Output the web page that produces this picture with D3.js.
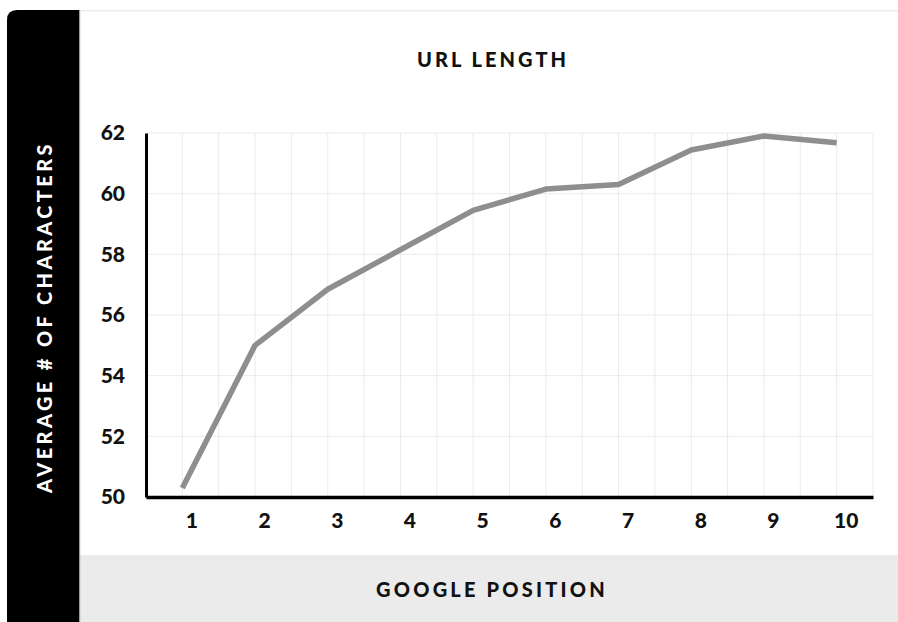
<!DOCTYPE html>
<html>
<head>
<meta charset="utf-8">
<script src="https://cdn.jsdelivr.net/npm/d3@7"></script>
<style>
  html, body { margin: 0; padding: 0; background: #fff; }
  svg { display: block; font-family: "Lato", "Open Sans", sans-serif; }
</style>
</head>
<body>
<svg id="chart" width="898" height="622"></svg>
<script>
const positions = [1, 2, 3, 4, 5, 6, 7, 8, 9, 10];
const avgChars = [50.3, 55.0, 56.85, 58.15, 59.45, 60.15, 60.3, 61.44, 61.9, 61.68];
const yTicks = [50, 52, 54, 56, 58, 60, 62];
const title = "URL LENGTH";
const xTitle = "GOOGLE POSITION";
const yTitle = "AVERAGE # OF CHARACTERS";

const svg = d3.select("#chart");
const W = 898, H = 622;
const FONT = "Lato, 'Open Sans', sans-serif";

// frame: top line, gray band, black panel
svg.append("rect").attr("x", 80).attr("y", 10).attr("width", W - 80).attr("height", 1.5).attr("fill", "#ececec");
svg.append("rect").attr("x", 80).attr("y", 555).attr("width", W - 80).attr("height", H - 555).attr("fill", "#ebebeb");
svg.append("path")
  .attr("d", "M7,622 L7,20 Q7,10 17,10 L79,10 L79,622 Z")
  .attr("fill", "#000");
svg.append("rect").attr("x", 79).attr("y", 10).attr("width", 1.2).attr("height", H - 10).attr("fill", "#9a9a9a");

const x = d3.scaleLinear().domain([0.5, 10.5]).range([146, 873]);
const y = d3.scaleLinear().domain([50, 62]).range([497, 133]);

// grid
const g = svg.append("g");
const xGrid = d3.range(1, 21).map(i => 0.5 + i * 0.5);
g.selectAll(".vg").data(xGrid).join("line")
  .attr("x1", d => x(d)).attr("x2", d => x(d))
  .attr("y1", y(62)).attr("y2", y(50))
  .attr("stroke", "#ebebeb").attr("stroke-width", 1);
g.selectAll(".hg").data(yTicks).join("line")
  .attr("x1", x(0.5)).attr("x2", x(10.5))
  .attr("y1", d => y(d)).attr("y2", d => y(d))
  .attr("stroke", "#ebebeb").attr("stroke-width", 1);

// axes
const yAxis = d3.axisLeft(y).tickValues(yTicks).tickSize(0).tickPadding(21);
const yG = svg.append("g").attr("transform", `translate(${x(0.5)},0)`).call(yAxis)
  .attr("font-family", FONT);
yG.select(".domain").attr("stroke", "#000").attr("stroke-width", 3);
yG.selectAll("text").attr("font-size", 21).attr("font-weight", 900).attr("fill", "#111");

const xAxis = d3.axisBottom(x).tickValues(positions).tickSize(0).tickPadding(16).tickFormat(d3.format("d"));
const xG = svg.append("g").attr("transform", `translate(0,${y(50)})`).call(xAxis)
  .attr("font-family", FONT);
xG.select(".domain").attr("stroke", "#000").attr("stroke-width", 3.5);
xG.selectAll("text").attr("font-size", 21).attr("font-weight", 900).attr("fill", "#111").attr("dx", 9);

// line
const line = d3.line().x((d, i) => x(positions[i])).y(d => y(d));
svg.append("path").datum(avgChars)
  .attr("d", line)
  .attr("fill", "none")
  .attr("stroke", "#8e8e8e")
  .attr("stroke-width", 5.5)
  .attr("stroke-linejoin", "round");

// titles
svg.append("text").attr("x", 493).attr("y", 67).attr("text-anchor", "middle")
  .attr("font-size", 20).attr("font-weight", 900).attr("letter-spacing", 3).attr("fill", "#111")
  .text(title);
svg.append("text").attr("x", 492).attr("y", 597).attr("text-anchor", "middle")
  .attr("font-size", 20).attr("font-weight", 900).attr("letter-spacing", 3.2).attr("fill", "#111")
  .text(xTitle);
svg.append("text").attr("transform", "translate(52,317) rotate(-90)").attr("text-anchor", "middle")
  .attr("font-size", 20).attr("font-weight", 900).attr("letter-spacing", 3.4).attr("fill", "#fff")
  .text(yTitle);
</script>
</body>
</html>
